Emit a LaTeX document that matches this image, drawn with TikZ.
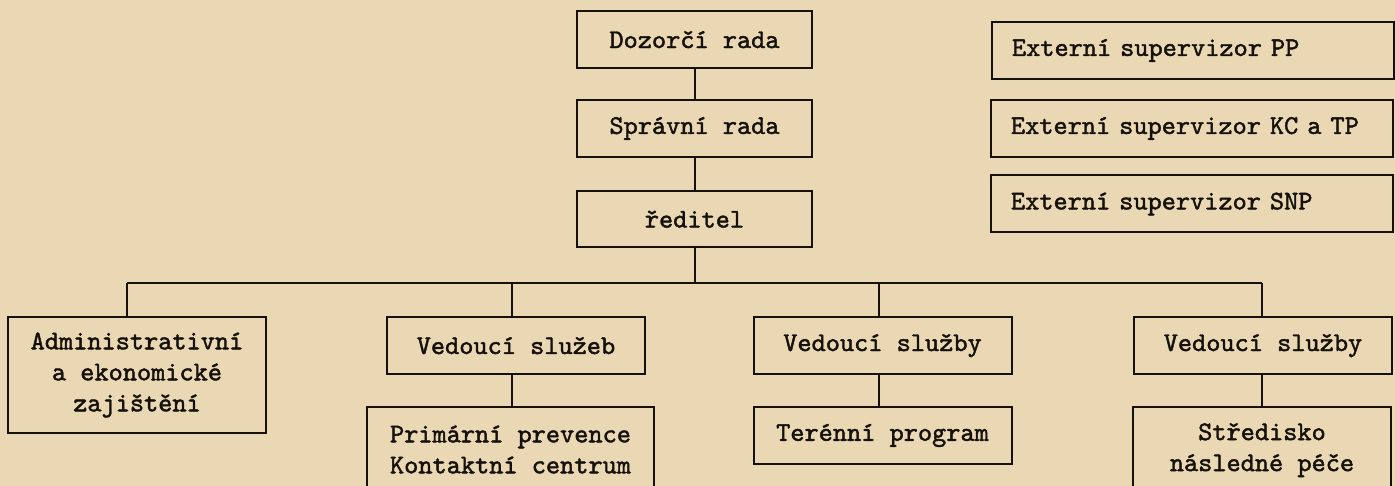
\documentclass[tikz,border=0pt]{standalone}
\usepackage{fontspec}
\newfontfamily\orgfont{lmmono10-regular.otf}[FakeBold=1.6]
\definecolor{parchment}{HTML}{EAD8B5}
\definecolor{ink}{HTML}{151109}
\tikzset{
  orgbox/.style={draw=ink, line width=2pt, inner sep=0pt, align=center,
    text=ink, font=\orgfont\fontsize{27}{31}\selectfont},
  extbox/.style={orgbox, align=left, text width=362pt, inner xsep=20pt,
    minimum height=57pt},
  unitbox/.style={orgbox, minimum width=258pt, minimum height=57pt},
  orgline/.style={draw=ink, line width=2pt},
}

\begin{document}
\begin{tikzpicture}[x=1pt, y=-1pt]
    \fill[parchment] (0,0) rectangle (1395,486);
    \useasboundingbox (0,0) rectangle (1395,486);
    \clip (0,0) rectangle (1395,486);
    % board and director
    \node[orgbox, minimum width=235pt, minimum height=57pt] (dozor) at (694.5,39.5) {Dozorčí rada};
    \node[orgbox, minimum width=235pt, minimum height=57pt] (sprav) at (694.5,128.5) {Správní rada};
    \node[orgbox, minimum width=235pt, minimum height=56pt] (redit) at (694.5,219) {ředitel};
    % external supervisors
    \node[extbox] (extpp) at (1193,50.5) {Externí supervizor PP};
    \node[extbox] (extkc) at (1192,128.5) {Externí supervizor KC a TP};
    \node[extbox] (extsnp) at (1192,204) {Externí supervizor SNP};
    % second level
    \node[orgbox, minimum width=258pt, minimum height=116pt] (admin) at (137,375) {Administrativní\\a ekonomické\\zajištění};
    \node[unitbox] (vsluzeb) at (516,345.5) {Vedoucí služeb};
    \node[unitbox] (vsluzbyA) at (882.5,345.5) {Vedoucí služby};
    \node[unitbox] (vsluzbyB) at (1263,345.5) {Vedoucí služby};
    % services
    \node[orgbox, minimum width=287pt, minimum height=85pt] (prim) at (510.5,449.5) {Primární prevence\\Kontaktní centrum};
    \node[unitbox] (teren) at (882.5,435.5) {Terénní program};
    \node[orgbox, minimum width=258pt, minimum height=86pt] (stred) at (1262,450) {Středisko\\následné péče};
    % connectors
    \coordinate (busA) at (127,283);
    \coordinate (busB) at (512,283);
    \coordinate (busC) at (879,283);
    \coordinate (busD) at (1262,283);
    \draw[orgline] (dozor) -- (sprav);
    \draw[orgline] (sprav) -- (redit);
    \draw[orgline] (redit.south) -- (redit.south |- busA);
    \draw[orgline] (busA) -- (busD);
    \draw[orgline] (busA) -- (busA |- admin.north);
    \draw[orgline] (busB) -- (busB |- vsluzeb.north);
    \draw[orgline] (busC) -- (busC |- vsluzbyA.north);
    \draw[orgline] (busD) -- (busD |- vsluzbyB.north);
    \draw[orgline] (busB |- vsluzeb.south) -- (busB |- prim.north);
    \draw[orgline] (busC |- vsluzbyA.south) -- (busC |- teren.north);
    \draw[orgline] (busD |- vsluzbyB.south) -- (busD |- stred.north);
\end{tikzpicture}
\end{document}
